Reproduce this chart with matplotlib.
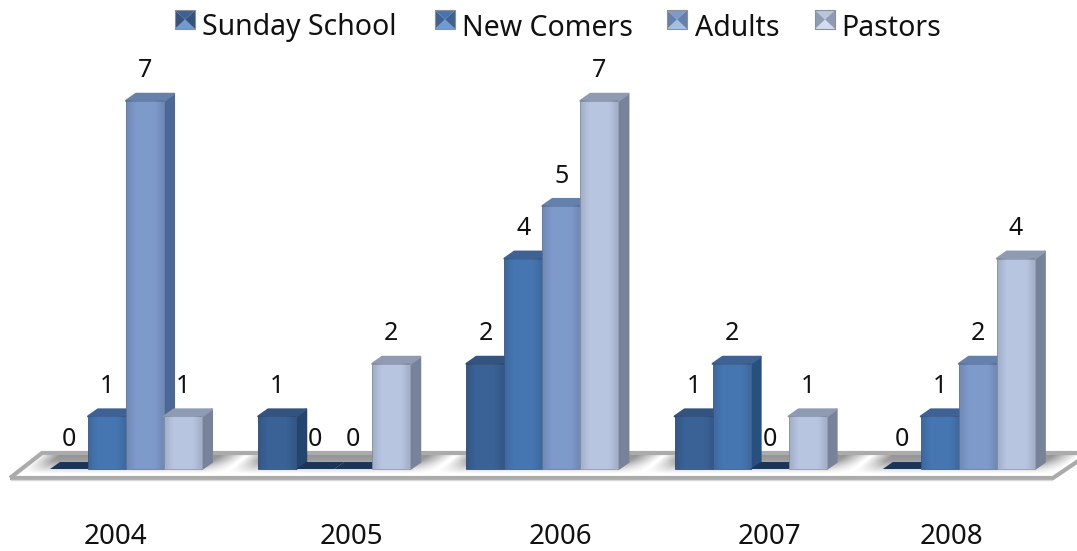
import numpy as np
import matplotlib
matplotlib.use("Agg")
import matplotlib.pyplot as plt
from matplotlib.patches import Polygon, Rectangle
from matplotlib.transforms import Affine2D

plt.rcParams['font.family'] = ['Noto Sans', 'DejaVu Sans']

# values
years = ['2004', '2005', '2006', '2007', '2008']
series_names = ['Sunday School', 'New Comers', 'Adults', 'Pastors']
sunday_school = [0, 1, 2, 1, 0]
new_comers = [1, 0, 4, 2, 1]
adults = [7, 0, 5, 0, 2]
pastors = [1, 2, 7, 1, 4]

all_series = [sunday_school, new_comers, adults, pastors]
front_cols = ['#3A6297', '#4676B2', '#7E9ACB', '#B7C5E1']
side_cols = ['#24456F', '#28507F', '#4C6896', '#76839A']
top_cols = ['#35537F', '#3F6294', '#6480AB', '#8F9BB2']
legend_light = ['#6F9BD0', '#6F9BD0', '#A5BFE3', '#D3DCEE']

W, H = 1077, 551
GROUP_PX = 208.2     # distance between groups
UNIT_PX = 52.6       # height of one unit
X0_PX, Y0_PX = 126, 469   # where group 0 / value 0 land
BAR = 38 / GROUP_PX
DX = 10 / GROUP_PX   # 3d depth
DY = 7 / UNIT_PX

fig = plt.figure(figsize=(W / 100, H / 100), dpi=100)
ax = fig.add_axes([0, 0, 1, 1])
ax.axis('off')
px = Affine2D().scale(1 / W, -1 / H).translate(0, 1) + fig.transFigure   # pixel coords for the decoration


def shade_face(x0, x1, y0, y1, z):
    # soft lighter/darker edges on the front of a bar
    g = np.array([[0.10, 0.04, 0, 0, 0, 0, 0, 0.03, 0.10]])
    rgba = np.zeros((1, 9, 4))
    rgba[..., 3] = g
    ax.imshow(rgba, extent=(x0, x1, y0, y1), aspect='auto', zorder=z, interpolation='bilinear')


# floor, shadow leans with the perspective
floor_pts = [(10, 478), (42, 453), (1090, 453), (1053, 478)]
ys = np.arange(453, 479)
edges = np.array([50, 202, 258, 410, 467, 619, 675, 827, 883, 1035])
vert = np.interp(ys, [455, 460, 473], [0.42, 0.38, 0])
img = np.ones((len(ys), W))
for r, y in enumerate(ys):
    lean = (y - 466) * 1.2
    horiz = np.zeros(W)
    for a, b in zip(edges[::2], edges[1::2]):
        horiz = np.maximum(horiz, np.interp(np.arange(W) + lean, [a - 24, a - 4, b + 4, b + 30], [0, 1, 1, 0]))
    img[r] = 1 - vert[r] * horiz
floor = Polygon(floor_pts, closed=True, facecolor='none', edgecolor='#ABABAB', lw=3, transform=px, zorder=2,
                joinstyle='miter')
ax.add_patch(floor)
im = ax.imshow(img, cmap='gray', vmin=0, vmax=1, aspect='auto', zorder=1, interpolation='bilinear',
               extent=(-X0_PX / GROUP_PX, (W - X0_PX) / GROUP_PX, (Y0_PX - 479) / UNIT_PX, (Y0_PX - 453) / UNIT_PX))
im.set_clip_path(floor)
ax.plot([11, 1052], [480, 480], color='#D8D8D8', lw=1, transform=px, zorder=2)

for s, vals in enumerate(all_series):
    for g, v in enumerate(vals):
        x0 = g + (s - 2) * BAR
        x1 = x0 + BAR
        z = 3 + s * 0.1
        if v == 0:
            # empty bar is only a dark flat plate on the floor
            ax.add_patch(Polygon([(x0, 0), (x1, 0), (x1 + DX, DY), (x0 + DX, DY)], closed=True,
                                 facecolor='#1C3658', edgecolor='none', zorder=z))
        else:
            ax.add_patch(Polygon([(x1, 0), (x1 + DX, DY), (x1 + DX, v + DY), (x1, v)], closed=True,
                                 facecolor=side_cols[s], edgecolor=side_cols[s], lw=1.5, joinstyle='round', zorder=z))
            ax.add_patch(Polygon([(x0, v), (x1, v), (x1 + DX, v + DY), (x0 + DX, v + DY)], closed=True,
                                 facecolor=top_cols[s], edgecolor=top_cols[s], lw=1.5, joinstyle='round', zorder=z))
            ax.bar(x0 + BAR / 2, v, width=BAR, color=front_cols[s], edgecolor=top_cols[s], lw=0.6, zorder=z + 0.01)
            shade_face(x0, x1, 0, v, z + 0.02)
        ax.annotate(str(v), (x0 + BAR / 2, v), xytext=(0, 21.5), textcoords='offset points',
                    ha='center', va='center', fontsize=18, color='#111111', zorder=6)

# category labels sit off-centre in the reference
year_x = [115, 351, 560, 769, 951]
for lab, x in zip(years, year_x):
    ax.text(x, 537, lab, transform=px, ha='center', va='center', fontsize=20, color='#111111')

# legend
legend_sq = [175, 435, 667, 815]
legend_txt = [202, 462, 695, 841]
for s, name in enumerate(series_names):
    a, b, t, m = legend_sq[s], legend_sq[s] + 20, 10, 29
    cx, cy = (a + b) / 2, (t + m) / 2
    ax.add_patch(Polygon([(a, t), (b, t), (cx, cy)], closed=True, fc=front_cols[s], ec='none', transform=px, zorder=5))
    ax.add_patch(Polygon([(a, m), (b, m), (cx, cy)], closed=True, fc=legend_light[s], ec='none', transform=px, zorder=5))
    ax.add_patch(Polygon([(a, t), (a, m), (cx, cy)], closed=True, fc=top_cols[s], ec='none', transform=px, zorder=5))
    ax.add_patch(Polygon([(b, t), (b, m), (cx, cy)], closed=True, fc=top_cols[s], ec='none', transform=px, zorder=5))
    ax.add_patch(Rectangle((a, t), 20, 19, fc='none', ec='#8A8F98', lw=0.8, transform=px, zorder=5.1))
    ax.text(legend_txt[s], 28, name, transform=px, ha='left', va='center', fontsize=20.5, color='#111111')

ax.set_xlim(-X0_PX / GROUP_PX, (W - X0_PX) / GROUP_PX)
ax.set_ylim(-(H - Y0_PX) / UNIT_PX, Y0_PX / UNIT_PX)

fig.savefig('out.png', dpi=100)
